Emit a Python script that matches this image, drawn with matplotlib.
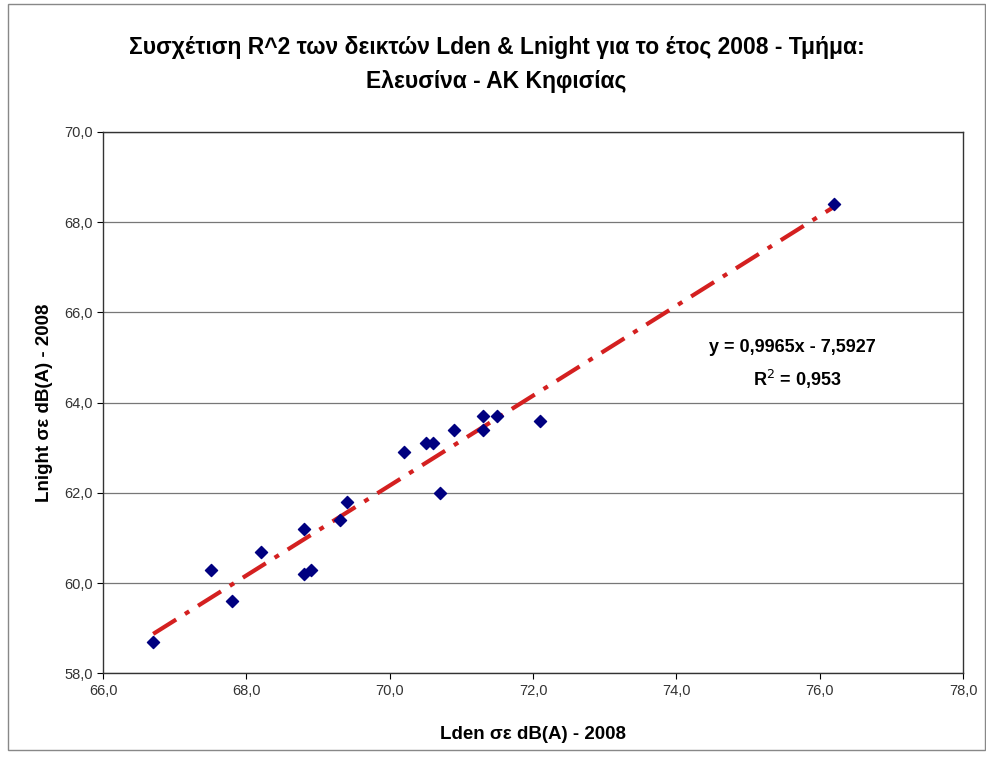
import numpy as np
import matplotlib.pyplot as plt
from matplotlib.ticker import FuncFormatter
from matplotlib.patches import Rectangle

plt.rcParams['font.family'] = ['Liberation Sans', 'DejaVu Sans']

# Δεδομένα (εκτίμηση από το γράφημα)
lden = [66.7, 67.5, 67.8, 68.2, 68.8, 68.8, 68.9, 69.3, 69.4,
        70.2, 70.5, 70.6, 70.7, 70.9, 71.3, 71.3, 71.5, 72.1, 76.2]
lnight = [58.7, 60.3, 59.6, 60.7, 61.2, 60.2, 60.3, 61.4, 61.8,
          62.9, 63.1, 63.1, 62.0, 63.4, 63.7, 63.4, 63.7, 63.6, 68.4]

slope, intercept = 0.9965, -7.5927
title = "Συσχέτιση R^2 των δεικτών Lden & Lnight για το έτος 2008 - Τμήμα:\nΕλευσίνα - ΑΚ Κηφισίας"

fig = plt.figure(figsize=(9.87, 7.58), dpi=100)
ax = fig.add_axes([0.1044, 0.1117, 0.8713, 0.7142])

# Πλαίσιο γύρω από το γράφημα
fig.patches.append(Rectangle((0.008, 0.01), 0.99, 0.985, transform=fig.transFigure,
                             fill=False, edgecolor='#888888', linewidth=1.0))

ax.scatter(lden, lnight, marker='D', s=38, color='#000080', zorder=3)

xs = np.array([min(lden), max(lden)])
ax.plot(xs, slope * xs + intercept, color='#d42020', linewidth=3,
        linestyle=(0, (6.5, 2.5, 1.2, 2.5)), zorder=2)

ax.set_xlim(66, 78)
ax.set_ylim(58, 70)
ax.set_xticks(np.arange(66, 78.1, 2))
ax.set_yticks(np.arange(58, 70.1, 2))
fmt = FuncFormatter(lambda v, p: f"{v:.1f}".replace('.', ','))
ax.xaxis.set_major_formatter(fmt)
ax.yaxis.set_major_formatter(fmt)
ax.tick_params(labelsize=10.5, labelcolor='#333333', length=4, direction='out')
ax.grid(axis='y', color='#777777', linewidth=0.9)
ax.set_axisbelow(True)
for s in ax.spines.values():
    s.set_color('#333333')
    s.set_linewidth(1.0)

ax.set_xlabel("Lden σε dB(A) - 2008", fontsize=13.5, fontweight='bold', labelpad=20)
ax.set_ylabel("Lnight σε dB(A) - 2008", fontsize=13.5, fontweight='bold', labelpad=8)
fig.text(0.503, 0.915, title, ha='center', va='center', fontsize=16.5,
         fontweight='bold', linespacing=1.65)

ax.text(0.803, 0.541, "y = 0,9965x - 7,5927", transform=fig.transFigure,
        ha='center', va='center', fontsize=13, fontweight='bold')
ax.text(0.808, 0.499, "R$^2$ = 0,953", transform=fig.transFigure,
        ha='center', va='center', fontsize=13, fontweight='bold')

fig.savefig("out.png", dpi=100)
